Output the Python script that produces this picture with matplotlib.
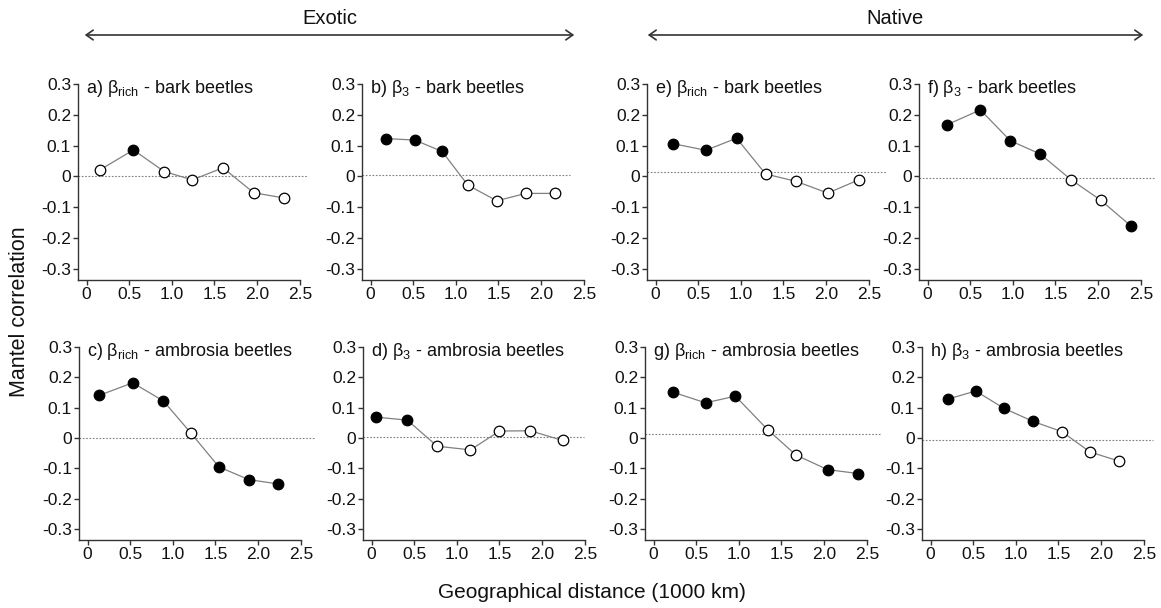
import matplotlib
matplotlib.use("Agg")
import matplotlib.pyplot as plt

plt.rcParams['font.family'] = ['Liberation Sans', 'DejaVu Sans']
plt.rcParams['mathtext.fontset'] = 'custom'
plt.rcParams['mathtext.rm'] = 'Liberation Sans'
plt.rcParams['mathtext.it'] = 'Liberation Sans:italic'

# distance classes (1000 km) and Mantel correlations
dist_a = [0.16, 0.55, 0.91, 1.24, 1.60, 1.96, 2.32]
mantel_a = [0.022, 0.086, 0.016, -0.011, 0.028, -0.053, -0.070]
sig_a = [0, 1, 0, 0, 0, 0, 0]

dist_b = [0.18, 0.52, 0.84, 1.14, 1.48, 1.82, 2.16]
mantel_b = [0.123, 0.118, 0.081, -0.028, -0.079, -0.055, -0.055]
sig_b = [1, 1, 1, 0, 0, 0, 0]

dist_c = [0.14, 0.53, 0.89, 1.21, 1.54, 1.89, 2.23]
mantel_c = [0.141, 0.182, 0.122, 0.017, -0.095, -0.137, -0.151]
sig_c = [1, 1, 1, 0, 1, 1, 1]

dist_d = [0.05, 0.42, 0.77, 1.16, 1.50, 1.86, 2.24]
mantel_d = [0.069, 0.059, -0.027, -0.039, 0.023, 0.024, -0.008]
sig_d = [1, 1, 0, 0, 0, 0, 0]

dist_e = [0.21, 0.59, 0.95, 1.29, 1.65, 2.02, 2.39]
mantel_e = [0.106, 0.085, 0.124, 0.008, -0.016, -0.054, -0.010]
sig_e = [1, 1, 1, 0, 0, 0, 0]

dist_f = [0.23, 0.62, 0.97, 1.32, 1.68, 2.03, 2.39]
mantel_f = [0.168, 0.216, 0.116, 0.073, -0.010, -0.077, -0.162]
sig_f = [1, 1, 1, 1, 0, 0, 1]

dist_g = [0.23, 0.61, 0.96, 1.34, 1.67, 2.04, 2.40]
mantel_g = [0.151, 0.116, 0.138, 0.027, -0.056, -0.104, -0.117]
sig_g = [1, 1, 1, 0, 0, 1, 1]

dist_h = [0.20, 0.53, 0.86, 1.20, 1.54, 1.87, 2.21]
mantel_h = [0.128, 0.155, 0.098, 0.055, 0.021, -0.046, -0.076]
sig_h = [1, 1, 1, 1, 0, 0, 0]

# level and right end of the dotted reference line in each panel
ref_level = {'a': 0.0, 'b': 0.004, 'c': 0.0, 'd': 0.002,
             'e': 0.015, 'f': -0.006, 'g': 0.013, 'h': -0.008}
ref_end = {'a': 2.58, 'b': 2.34, 'c': 2.65, 'd': 2.49,
           'e': 2.7, 'f': 2.66, 'g': 2.65, 'h': 2.61}

titles = {
    'a': r'a) β$_{\mathregular{rich}}$ - bark beetles',
    'b': r'b) β$_{\mathregular{3}}$ - bark beetles',
    'c': r'c) β$_{\mathregular{rich}}$ - ambrosia beetles',
    'd': r'd) β$_{\mathregular{3}}$ - ambrosia beetles',
    'e': r'e) β$_{\mathregular{rich}}$ - bark beetles',
    'f': r'f) β$_{\mathregular{3}}$ - bark beetles',
    'g': r'g) β$_{\mathregular{rich}}$ - ambrosia beetles',
    'h': r'h) β$_{\mathregular{3}}$ - ambrosia beetles',
}
data = {
    'a': (dist_a, mantel_a, sig_a), 'b': (dist_b, mantel_b, sig_b),
    'c': (dist_c, mantel_c, sig_c), 'd': (dist_d, mantel_d, sig_d),
    'e': (dist_e, mantel_e, sig_e), 'f': (dist_f, mantel_f, sig_f),
    'g': (dist_g, mantel_g, sig_g), 'h': (dist_h, mantel_h, sig_h),
}

W, H = 1161, 608
fig = plt.figure(figsize=(W / 100, H / 100), dpi=100)

# pixel layout: left spine x, top (y=0.3) and bottom (x axis) in pixels
lefts_top = {'a': 78, 'b': 362, 'e': 647, 'f': 919}
lefts_bot = {'c': 79, 'd': 363, 'g': 645, 'h': 922}
xmin, xmax = -0.1, 2.7
ymin, ymax = -0.336, 0.3
axw = (xmax - xmin) * 85.3

def make_axes(key, left, top, bottom):
    ax = fig.add_axes([left / W, 1 - bottom / H, axw / W, (bottom - top) / H])
    x, y, s = data[key]
    ax.plot(x, y, color='#808080', lw=0.9, zorder=2)
    for xi, yi, si in zip(x, y, s):
        ax.plot(xi, yi, 'o', ms=7.6, mew=0.9, mec='black',
                mfc='black' if si else 'white', zorder=3, clip_on=False)
    ax.plot([xmin, ref_end[key]], [ref_level[key]] * 2, color='#808080',
            lw=0.8, ls=(0, (1.5, 1.5)), zorder=1)
    ax.set_xlim(xmin, xmax)
    ax.set_ylim(ymin, ymax)
    ax.set_xticks([0, 0.5, 1.0, 1.5, 2.0, 2.5])
    ax.set_xticklabels(['0', '0.5', '1.0', '1.5', '2.0', '2.5'])
    ax.set_yticks([0.3, 0.2, 0.1, 0, -0.1, -0.2, -0.3])
    ax.set_yticklabels(['0.3', '0.2', '0.1', '0', '-0.1', '-0.2', '-0.3'])
    for sp in ['top', 'right']:
        ax.spines[sp].set_visible(False)
    ax.spines['bottom'].set_bounds(xmin, 2.5)
    for sp in ['left', 'bottom']:
        ax.spines[sp].set_color('#333333')
        ax.spines[sp].set_linewidth(1.0)
    ax.tick_params(direction='out', length=3.5, width=1.0, color='#333333',
                   labelsize=12.5, labelcolor='#111111', pad=1.5)
    ax.text(0.035, ymax - 0.014, titles[key], transform=ax.get_yaxis_transform(),
            ha='left', va='center', fontsize=13, color='#111111')
    ax.patch.set_visible(False)
    return ax

for k, l in lefts_top.items():
    make_axes(k, l, 84, 280)
for k, l in lefts_bot.items():
    make_axes(k, l, 347, 540)

fig.text(20 / W, 1 - 312 / H, 'Mantel correlation', rotation=90,
         ha='center', va='center', fontsize=15.5, color='#111111')
fig.text(592 / W, 1 - 592 / H, 'Geographical distance (1000 km)',
         ha='center', va='center', fontsize=15, color='#111111')

# group arrows at the top
for x0, x1, label in [(82, 577, 'Exotic'), (645, 1146, 'Native')]:
    fig.add_artist(matplotlib.patches.FancyArrowPatch(
        (x0 / W, 1 - 35 / H), (x1 / W, 1 - 35 / H), transform=fig.transFigure,
        arrowstyle='<->,head_length=5,head_width=3.5', color='#333333',
        lw=1.2, mutation_scale=1))
    fig.text((x0 + x1) / 2 / W, 1 - 19 / H, label, ha='center', va='center',
             fontsize=14.5, color='#111111')

fig.savefig('out.png', dpi=100)
